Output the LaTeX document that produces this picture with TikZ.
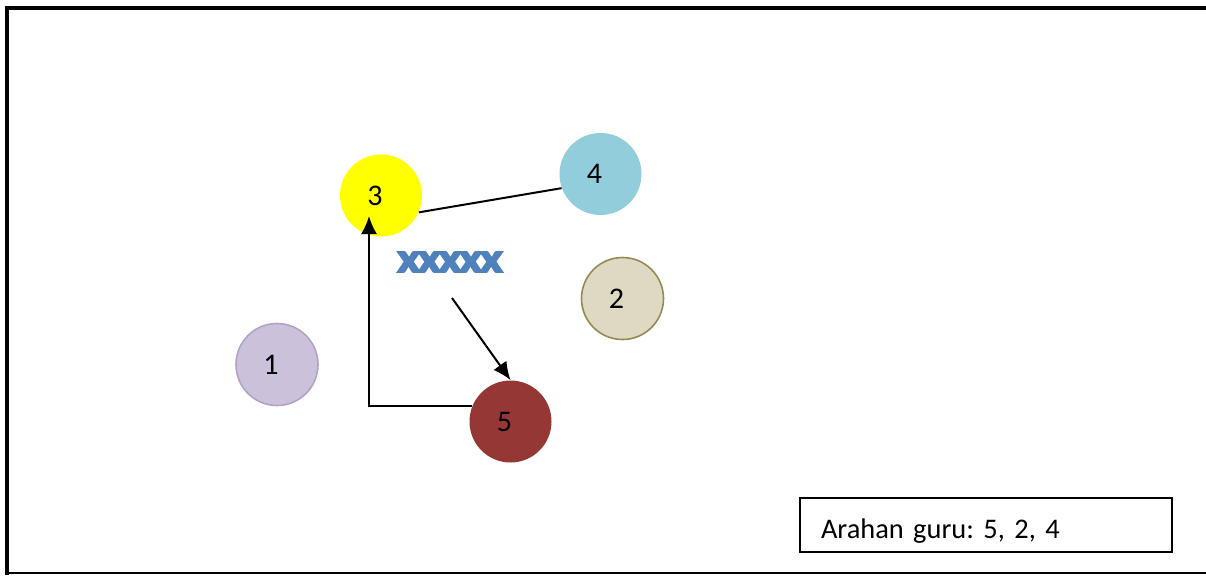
\documentclass[tikz,border=0pt]{standalone}
\usepackage{fontspec}
\setmainfont{Carlito}
\usetikzlibrary{arrows.meta}
\frenchspacing
\definecolor{ballyellow}{HTML}{FFFF00}
\definecolor{ballblue}{HTML}{92CDDC}
\definecolor{balltan}{HTML}{DDD9C3}
\definecolor{balltanline}{HTML}{948A54}
\definecolor{balllilac}{HTML}{CCC1DA}
\definecolor{balllilacline}{HTML}{B3A2C7}
\definecolor{ballred}{HTML}{953735}
\definecolor{playerblue}{HTML}{4F81BD}
\tikzset{
	ball/.style={circle, inner sep=0pt, minimum size=41pt},
	pass/.style={line width=1pt, ->, >={Latex[length=9pt,width=8pt]}}
}

\begin{document}
\begin{tikzpicture}[x=0.5pt, y=-0.5pt, font=\fontsize{15}{18}\selectfont]
				\useasboundingbox (0,0) rectangle (1206,575);
				% frame
				\draw[line width=0.6pt] (7,573) -- (1206,573);
				\draw[line width=2pt] (7,575) -- (7,8) -- (1206,8);
				% balls
				\node[ball, fill=ballyellow, label={[xshift=-3pt]center:3}] (B3)at(381, 195.5) {};
				\node[ball, fill=ballblue, label={[xshift=-3pt]center:4}] (B4)at(600.5, 174) {};
				\node[ball, fill=balltan, draw=balltanline, line width=0.8pt, label={[xshift=-3pt]center:2}] (B2)at(622.5, 298.5) {};
				\node[ball, fill=balllilac, draw=balllilacline, line width=0.8pt, label={[xshift=-3pt]center:1}] (B1)at(277, 364.5) {};
				\node[ball, fill=ballred, label={[xshift=-3pt]center:5}] (B5)at(510.5, 421.5) {};
				% players
				\node[text=playerblue, font=\fontsize{15}{18}\selectfont\bfseries, inner sep=0pt, xscale=1.25] (P)at(450, 262) {\special{pdf:literal direct 2 Tr 1.2 w}XXXXX\special{pdf:literal direct 0 Tr}};
				\coordinate (S1)at(452, 298);
				\coordinate (T3)at(369, 216);
				% teacher note
				\node[draw, line width=0.8pt, minimum width=186pt, minimum height=27pt, text width=165pt, text height=13pt, text depth=0pt, inner xsep=10.5pt, align=left, font=\fontsize{14.2}{17}\selectfont] (N)at(986, 525) {Arahan guru: 5, 2, 4};
				\draw[line width=1pt] (B3.-24) -- (B4.200);
				\draw[pass] (S1) -- (B5.north);
				\draw[pass] (B5.158) -| (T3);
			\end{tikzpicture}
\end{document}
